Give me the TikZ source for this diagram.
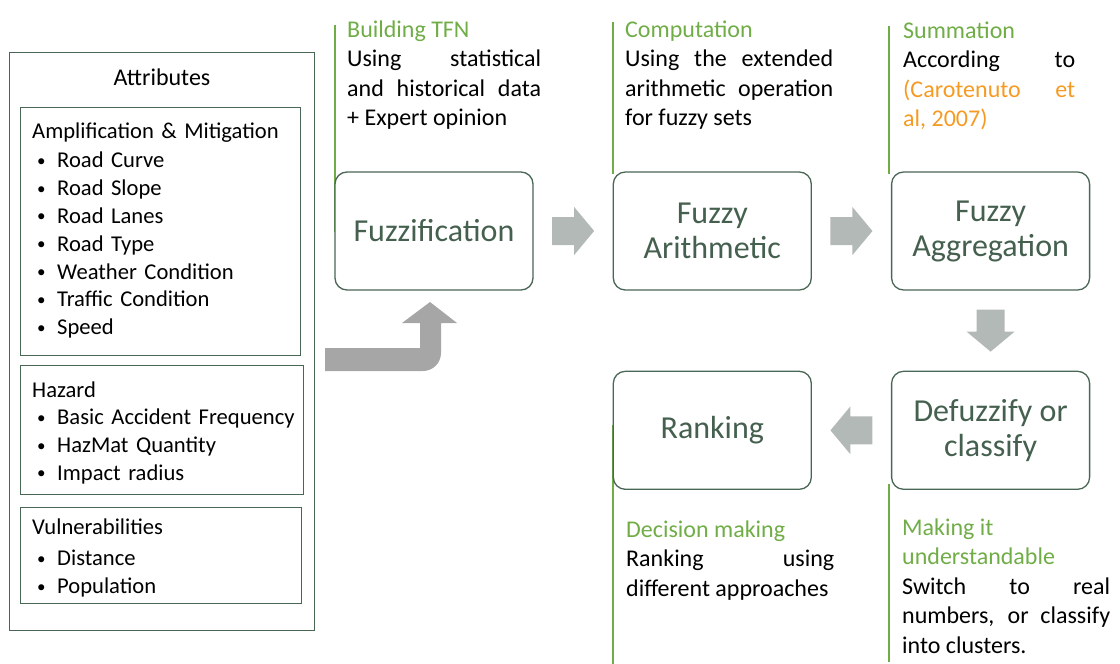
\documentclass[tikz,border=0pt]{standalone}
\usepackage{fontspec}
\setmainfont{Carlito}
\usetikzlibrary{positioning,calc}
\definecolor{boxline}{HTML}{4A6655}
\definecolor{boxtext}{HTML}{45604F}
\definecolor{headgreen}{HTML}{70AD47}
\definecolor{citeorange}{HTML}{F59B23}
\definecolor{arrowgray}{HTML}{B3B9B6}
\definecolor{bendgray}{HTML}{A6A6A6}
\newcommand\bul{\hspace*{5pt}\makebox[20pt][l]{\raisebox{1.5pt}{\fontsize{17}{17}\selectfont\textbullet}}}
\newcommand\blkarrow{(-21,-14) -- (1,-14) -- (1,-24) -- (21,0) -- (1,24) -- (1,14) -- (-21,14) -- cycle}
\begin{document}
\begin{tikzpicture}[x=1pt,y=-1pt,
  stage/.style={draw=boxline,line width=1.3pt,rounded corners=12pt,fill=white,
    minimum width=198pt,minimum height=118pt,inner sep=0pt,align=center,
    text=boxtext,font=\fontsize{32}{35}\selectfont},
  grp/.style={draw=boxline,line width=1.2pt,anchor=north west,inner sep=0pt},
  blk/.style={fill=arrowgray},
  vline/.style={headgreen,line width=1.3pt},
  note/.style={anchor=base west,inner sep=0pt,align=justify,
    font=\fontsize{24}{29.5}\selectfont},
  attr/.style={anchor=base west,inner sep=0pt,align=left,text width=270pt,
    font=\fontsize{22.6}{27.8}\selectfont}]
  \useasboundingbox (0,0) rectangle (1120,664);

  \draw[vline] (335,25) -- (335,232);
  \draw[vline] (613,22) -- (613,174);
  \draw[vline] (889,26) -- (889,174);
  \draw[vline] (613,425) -- (613,664);
  \draw[vline] (889,484) -- (889,662);

  \node[grp,minimum width=305pt,minimum height=578pt] (attrbox) at (9,52) {};
  \node[anchor=base,inner sep=0pt,font=\fontsize{24}{28}\selectfont] (attrtitle) at (162,85) {Attributes};
  \node[grp,minimum width=280pt,minimum height=248pt] (amp) at (20,107) {};
  \node[grp,minimum width=283pt,minimum height=129pt] (haz) at (20,365) {};
  \node[grp,minimum width=281pt,minimum height=96pt] (vul) at (20,507) {};
  \node[attr] (amptxt) at (32,138) {Amplification \& Mitigation\\[2pt]
    \bul Road Curve\\ \bul Road Slope\\ \bul Road Lanes\\ \bul Road Type\\
    \bul Weather Condition\\ \bul Traffic Condition\\ \bul Speed};
  \node[attr] (haztxt) at (32,397) {Hazard\\ \bul Basic Accident Frequency\\
    \bul HazMat Quantity\\ \bul Impact radius};
  \node[attr] (vultxt) at (32,534) {Vulnerabilities\\[4pt] \bul Distance\\ \bul Population};

  \fill[bendgray] (325,348) -- (420,348) -- (420,323) -- (402,323) -- (430,302)
    -- (457,323) -- (441,323) [rounded corners=18pt] -- (441,371) [sharp corners] -- (325,371) -- cycle;

  \node[stage] (fuzz) at (434,231) {Fuzzification};
  \node[stage,right=79pt of fuzz] (arith) {Fuzzy\\Arithmetic};
  \node[stage,right=79pt of arith] (aggr) {Fuzzy\\Aggregation};
  \node[stage,below=80pt of aggr] (defz) {Defuzzify or\\classify};
  \node[stage,left=79pt of defz] (rank) {Ranking};

  \coordinate (a1) at ($(fuzz.east)!0.5!(arith.west)$);
  \coordinate (a2) at ($(arith.east)!0.5!(aggr.west)$);
  \coordinate (a3) at ($(aggr.south)!0.5!(defz.north)$);
  \coordinate (a4) at ($(defz.west)!0.5!(rank.east)$);
  \fill[blk,shift={(a1)}] \blkarrow;
  \fill[blk,shift={(a2)}] \blkarrow;
  \fill[blk,shift={(a3)},rotate=-90] \blkarrow;
  \fill[blk,shift={(a4)},rotate=180] \blkarrow;

  \node[note,text width=194pt] (tfn) at (347,37) {\textcolor{headgreen}{Building TFN}\\
    Using statistical\linebreak and historical data\linebreak + Expert opinion};
  \node[note,text width=208pt] (comp) at (625,37) {\textcolor{headgreen}{Computation}\\
    Using the extended\linebreak arithmetic operation\linebreak for fuzzy sets};
  \node[note,text width=172pt] (summ) at (903,38) {\textcolor{headgreen}{Summation}\\
    According to\linebreak \textcolor{citeorange}{(Carotenuto et\linebreak al, 2007)}};
  \node[note,text width=208pt] (dec) at (626,537) {\textcolor{headgreen}{Decision making}\\
    Ranking using\linebreak different approaches};
  \node[note,text width=208pt] (mak) at (902,535) {\textcolor{headgreen}{Making it\\ understandable}\\
    Switch to real\linebreak numbers, or classify\linebreak into clusters.};
\end{tikzpicture}
\end{document}
